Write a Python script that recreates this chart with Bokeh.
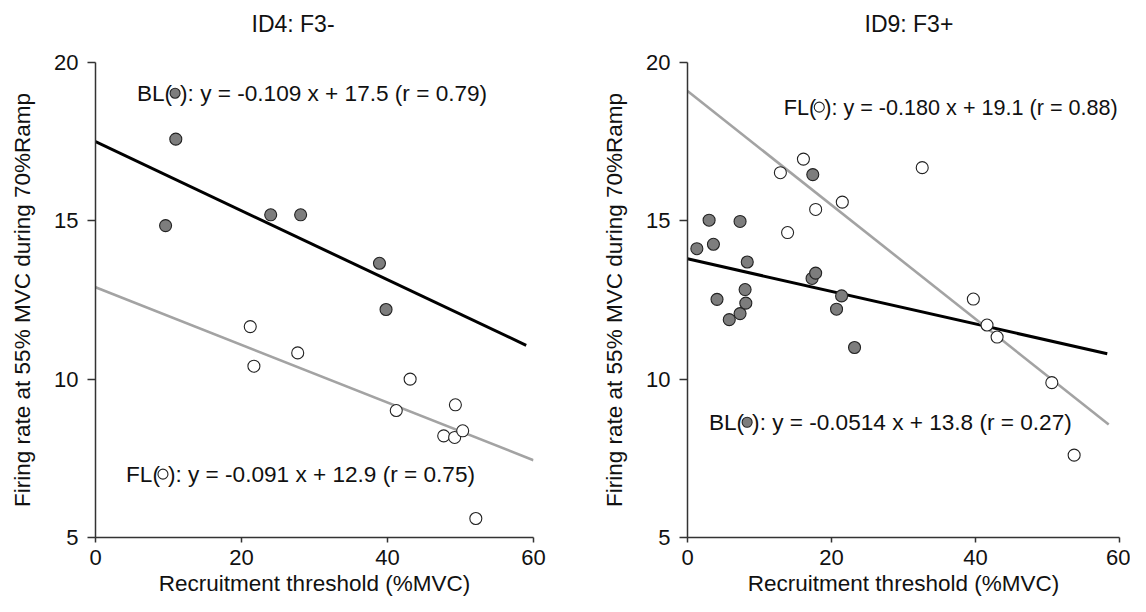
from bokeh.plotting import figure
from bokeh.layouts import row
from bokeh.models import FixedTicker, Label, Title
from bokeh.embed import file_html
from bokeh.resources import INLINE

FONT = "Liberation Sans"

# ---------------- data: ID4 (F3-) ----------------
id4_bl_x = [9.6, 11.0, 24.0, 28.1, 38.9, 39.8]
id4_bl_y = [14.85, 17.58, 15.19, 15.19, 13.66, 12.20]
id4_fl_x = [21.2, 21.7, 27.7, 41.2, 43.1, 47.7, 49.2, 49.3, 50.3, 52.1]
id4_fl_y = [11.66, 10.41, 10.83, 9.01, 10.00, 8.21, 8.16, 9.19, 8.37, 5.60]
id4_bl_fit = (-0.109, 17.5)      # slope, intercept
id4_fl_fit = (-0.091, 12.9)
id4_bl_fit_x = [0, 59]
id4_fl_fit_x = [0, 60]
id4_bl_eq = "): y = -0.109 x + 17.5 (r = 0.79)"
id4_fl_eq = "): y = -0.091 x + 12.9 (r = 0.75)"

# ---------------- data: ID9 (F3+) ----------------
id9_bl_x = [1.3, 3.0, 3.6, 4.1, 5.8, 7.3, 7.3, 8.3, 8.0, 8.1, 17.4, 17.3, 17.8, 21.4, 20.7, 23.2]
id9_bl_y = [14.12, 15.02, 14.26, 12.52, 11.88, 12.07, 14.98, 13.70, 12.83, 12.40, 16.46, 13.18, 13.35, 12.63, 12.21, 11.00]
id9_fl_x = [12.9, 16.1, 13.9, 17.8, 21.5, 32.6, 39.7, 41.6, 43.0, 50.6, 53.7]
id9_fl_y = [16.52, 16.95, 14.63, 15.36, 15.59, 16.68, 12.53, 11.71, 11.33, 9.89, 7.60]
id9_bl_fit = (-0.0514, 13.8)
id9_fl_fit = (-0.180, 19.1)
id9_bl_fit_x = [0, 58.3]
id9_fl_fit_x = [0, 58.5]
id9_bl_eq = "): y = -0.0514 x + 13.8 (r = 0.27)"
id9_fl_eq = "): y = -0.180 x + 19.1 (r = 0.88)"

x_ticks = [0, 20, 40, 60]
y_ticks = [5, 10, 15, 20]
x_label = "Recruitment threshold (%MVC)"
y_label = "Firing rate at 55% MVC during 70%Ramp"

FILL_GRAY = "#7d7d7d"
EDGE = "#222222"
TXT = "#111111"


def panel(title, title_off, bl_x, bl_y, fl_x, fl_y, bl_fit, fl_fit, bl_fx, fl_fx,
          bl_leg, fl_leg, bl_eq, fl_eq, bl_fs, fl_fs, fw, mb_left, mb_right, mb_top, ylab_so):
    p = figure(frame_width=fw, frame_height=475, x_range=(0, 60), y_range=(5, 20),
               min_border_left=mb_left, min_border_right=mb_right,
               min_border_top=mb_top, min_border_bottom=59,
               output_backend="svg", toolbar_location=None,
               outline_line_color=None, background_fill_color="white",
               border_fill_color="white")
    p.grid.visible = False
    # second (empty) line lifts the title well above the frame
    p.title = Title(text=title + "\n ", align="left", offset=title_off, standoff=0,
                    text_font=FONT, text_font_size="23px", text_font_style="normal",
                    text_color=TXT, text_line_height=1.0)

    # fit lines
    p.line(bl_fx, [bl_fit[0] * x + bl_fit[1] for x in bl_fx], line_color="black", line_width=3)
    p.line(fl_fx, [fl_fit[0] * x + fl_fit[1] for x in fl_fx], line_color="#a3a3a3", line_width=2.6)

    # points
    p.scatter(bl_x, bl_y, size=12, marker="circle", fill_color=FILL_GRAY,
              line_color=EDGE, line_width=1.1)
    p.scatter(fl_x, fl_y, size=12, marker="circle", fill_color="white",
              line_color=EDGE, line_width=1.1)

    # equation annotations with inline symbol
    for (lx, ly), name, eq, fill, fs in ((bl_leg, "BL(", bl_eq, FILL_GRAY, bl_fs),
                                         (fl_leg, "FL(", fl_eq, "white", fl_fs)):
        p.add_layout(Label(x=lx, y=ly, text=name, text_align="right", x_offset=-3,
                           text_baseline="middle", text_font=FONT,
                           text_font_size=fs, text_color=TXT))
        p.add_layout(Label(x=lx, y=ly, text=eq, text_align="left", x_offset=5,
                           text_baseline="middle", text_font=FONT,
                           text_font_size=fs, text_color=TXT))
        p.scatter([lx], [ly], size=10, marker="circle", fill_color=fill,
                  line_color=EDGE, line_width=1.1)

    p.xaxis.ticker = FixedTicker(ticks=x_ticks)
    p.yaxis.ticker = FixedTicker(ticks=y_ticks)
    p.xaxis.axis_label = x_label
    p.yaxis.axis_label = y_label
    for ax in (p.xaxis[0], p.yaxis[0]):
        ax.axis_line_color = "#333333"
        ax.axis_line_width = 1.5
        ax.major_tick_line_color = "#333333"
        ax.major_tick_line_width = 1.5
        ax.minor_tick_line_color = None
        ax.major_tick_in = 0
        ax.major_label_text_font = FONT
        ax.major_label_text_font_size = "22px"
        ax.major_label_text_color = TXT
        ax.axis_label_text_font = FONT
        ax.axis_label_text_font_size = "22.5px"
        ax.axis_label_text_font_style = "normal"
        ax.axis_label_text_color = TXT
    p.xaxis.major_tick_out = 5
    p.yaxis.major_tick_out = 8
    p.xaxis.major_label_standoff = 7
    p.yaxis.major_label_standoff = 9
    p.xaxis.axis_label_standoff = 3
    p.yaxis.axis_label_standoff = ylab_so
    return p


p1 = panel("ID4: F3-", 156, id4_bl_x, id4_bl_y, id4_fl_x, id4_fl_y,
           id4_bl_fit, id4_fl_fit, id4_bl_fit_x, id4_fl_fit_x,
           (10.9, 19.03), (9.24, 7.0), id4_bl_eq, id4_fl_eq, "22.6px", "22.6px",
           fw=438, mb_left=95, mb_right=40, mb_top=62, ylab_so=16)
p2 = panel("ID9: F3+", 177, id9_bl_x, id9_bl_y, id9_fl_x, id9_fl_y,
           id9_bl_fit, id9_fl_fit, id9_bl_fit_x, id9_fl_fit_x,
           (8.28, 8.64), (18.3, 18.59), id9_bl_eq, id9_fl_eq, "22.6px", "21.6px",
           fw=432, mb_left=114, mb_right=11, mb_top=61, ylab_so=16)

layout = row(p1, p2)
open("out.html", "w").write(file_html(layout, INLINE))
